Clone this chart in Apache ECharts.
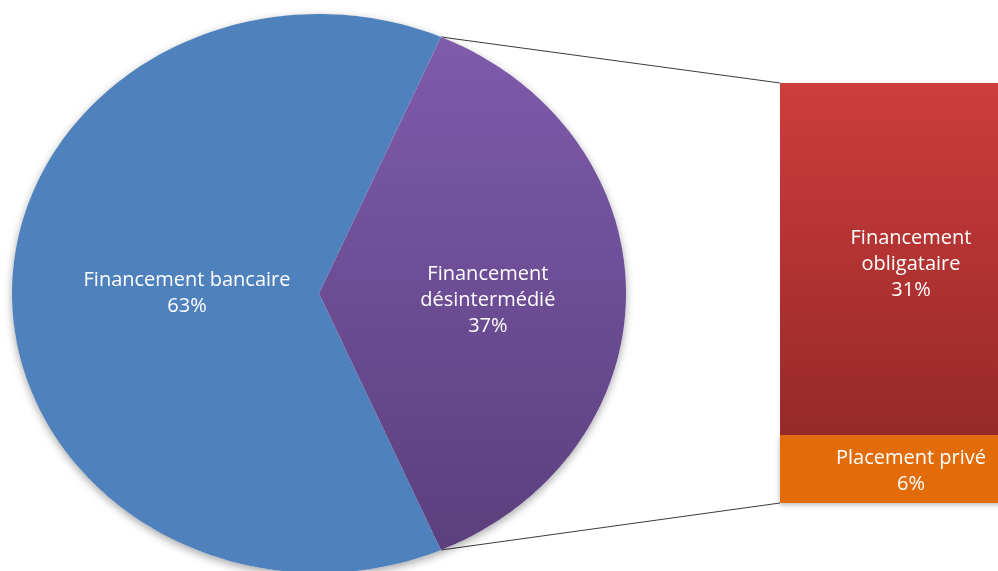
<!DOCTYPE html>
<html>
<head>
<meta charset="utf-8">
<script src="https://cdn.jsdelivr.net/npm/echarts@6/dist/echarts.min.js"></script>
<style>
  html, body { margin: 0; padding: 0; background: #ffffff; }
  #chart { width: 998px; height: 571px; }
</style>
</head>
<body>
<div id="chart"></div>
<script>
// Main pie: financing sources
const pieCategories = ['Financement bancaire', 'Financement désintermédié'];
const pieLabelText = ['Financement bancaire', 'Financement\ndésintermédié'];
const pieValues = [63, 37];

// Breakdown of the "désintermédié" slice (stacked bar, bottom to top)
const splitCategories = ['Placement privé', 'Financement obligataire'];
const splitLabelText = ['Placement privé', 'Financement\nobligataire'];
const splitValues = [6, 31];

// Styling
const pieColors = [
  '#4F81BD',
  new echarts.graphic.LinearGradient(0, 0, 0, 1, [
    { offset: 0, color: '#7E5BAB' },
    { offset: 1, color: '#5B3F7E' }
  ])
];
const splitColors = [
  '#E36C0A',
  new echarts.graphic.LinearGradient(0, 0, 0, 1, [
    { offset: 0, color: '#CD3D3B' },
    { offset: 1, color: '#962929' }
  ])
];
const pieLabelRadius = [0.43, 0.55];
const pieLabelShift = [[0, 0], [0, 7]];
const splitLabelShift = [[0, 2], [0, 5]];
const FONT = '"Open Sans", "DejaVu Sans", sans-serif';
const FONT_SIZE = 20;
const BAR_LEFT = 780;

const pieTotal = pieValues.reduce((a, b) => a + b, 0);
const splitTotal = splitValues.reduce((a, b) => a + b, 0);
// the split slice is centred on the right-hand side; both slices start at its upper edge
const splitAngle = pieValues[1] / pieTotal * Math.PI * 2;
const sliceStart = splitAngle / 2;
// direction of travel: bank slice counter-clockwise, split slice clockwise
const sliceDir = [1, -1];

function arcPoints(api, a0, a1, withCenter) {
  const pts = withCenter ? [api.coord([0, 0])] : [];
  const steps = 180;
  for (let i = 0; i <= steps; i++) {
    const t = a0 + (a1 - a0) * i / steps;
    pts.push(api.coord([Math.cos(t), Math.sin(t)]));
  }
  return pts;
}

function renderSlice(params, api) {
  const i = params.dataIndex;
  const share = api.value(0) / pieTotal * Math.PI * 2;
  const a0 = sliceStart;
  const a1 = a0 + sliceDir[i] * share;
  const mid = (a0 + a1) / 2;
  const r = pieLabelRadius[i];
  const lp = api.coord([Math.cos(mid) * r, Math.sin(mid) * r]);
  const children = [];
  if (i === 0) {
    // soft drop shadow under the whole pie
    children.push({
      type: 'polygon',
      shape: { points: arcPoints(api, 0, Math.PI * 2, false) },
      style: { fill: '#ffffff', shadowBlur: 8, shadowOffsetY: 3, shadowColor: 'rgba(0,0,0,0.35)' }
    });
  }
  children.push({
    type: 'polygon',
    shape: { points: arcPoints(api, a0, a1, true) },
    style: { fill: pieColors[i] }
  });
  children.push({
    type: 'text',
    z2: 10,
    style: {
      text: pieLabelText[i] + '\n' + api.value(0) + '%',
      x: lp[0] + pieLabelShift[i][0],
      y: lp[1] + pieLabelShift[i][1],
      fill: '#ffffff',
      font: FONT_SIZE + 'px ' + FONT,
      lineHeight: 26,
      align: 'center',
      verticalAlign: 'middle'
    }
  });
  return { type: 'group', children: children };
}

const chart = echarts.init(document.getElementById('chart'), null, { renderer: 'canvas' });

const option = {
  backgroundColor: '#ffffff',
  animation: false,
  grid: [
    { left: 12, top: 14, width: 614, height: 559, outerBoundsMode: 'none' },
    { left: BAR_LEFT, top: 83, width: 262, height: 420, outerBoundsMode: 'none' }
  ],
  xAxis: [
    { gridIndex: 0, type: 'value', min: -1, max: 1, show: false },
    { gridIndex: 1, type: 'category', data: [''], show: false }
  ],
  yAxis: [
    { gridIndex: 0, type: 'value', min: -1, max: 1, show: false },
    { gridIndex: 1, type: 'value', min: 0, max: splitTotal, show: false }
  ],
  series: [
    {
      type: 'custom',
      name: 'Financement',
      xAxisIndex: 0,
      yAxisIndex: 0,
      renderItem: renderSlice,
      data: pieValues.map((v, i) => ({ name: pieCategories[i], value: [v] })),
      clip: false
    }
  ].concat(splitValues.map((v, i) => ({
    type: 'bar',
    name: splitCategories[i],
    xAxisIndex: 1,
    yAxisIndex: 1,
    stack: 'split',
    barWidth: '100%',
    data: [v],
    itemStyle: Object.assign(
      { color: splitColors[i] },
      i === 0 ? { shadowBlur: 5, shadowOffsetY: 2, shadowColor: 'rgba(0,0,0,0.3)' } : {}
    ),
    label: {
      show: true,
      position: 'inside',
      offset: splitLabelShift[i],
      formatter: p => splitLabelText[i] + '\n' + p.value + '%',
      color: '#ffffff',
      fontFamily: FONT,
      fontSize: FONT_SIZE,
      lineHeight: 26
    }
  })))
};

chart.setOption(option);

// connector lines from the split slice edges to the bar corners
const topEdge = chart.convertToPixel({ gridIndex: 0 }, [Math.cos(splitAngle / 2), Math.sin(splitAngle / 2)]);
const bottomEdge = chart.convertToPixel({ gridIndex: 0 }, [Math.cos(-splitAngle / 2), Math.sin(-splitAngle / 2)]);
const barTop = chart.convertToPixel({ gridIndex: 1 }, [0, splitTotal]);
const barBottom = chart.convertToPixel({ gridIndex: 1 }, [0, 0]);

chart.setOption({
  graphic: [
    { type: 'line', z: 1, shape: { x1: topEdge[0], y1: topEdge[1], x2: BAR_LEFT, y2: barTop[1] },
      style: { stroke: '#3A3A3A', lineWidth: 1 } },
    { type: 'line', z: 1, shape: { x1: bottomEdge[0], y1: bottomEdge[1], x2: BAR_LEFT, y2: barBottom[1] },
      style: { stroke: '#3A3A3A', lineWidth: 1 } }
  ]
});
</script>
</body>
</html>
